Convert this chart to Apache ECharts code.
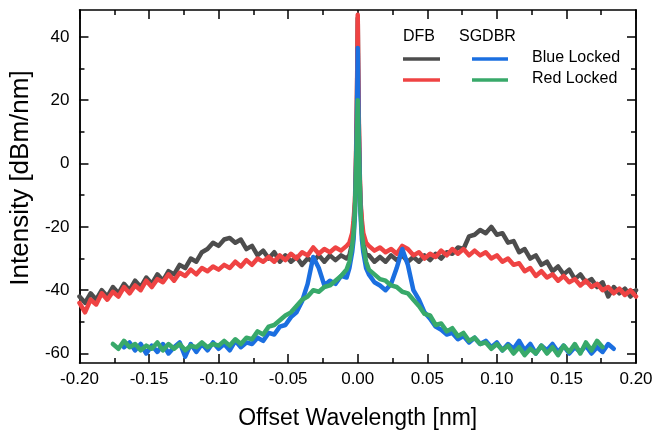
<!DOCTYPE html>
<html>
<head>
<meta charset="utf-8">
<script src="https://cdn.jsdelivr.net/npm/echarts@6/dist/echarts.min.js"></script>
<style>
html,body{margin:0;padding:0;background:#fff;}
#chart{width:656px;height:437px;}
</style>
</head>
<body>
<div id="chart"></div>
<script>
// Sample positions (offset wavelength, nm) for the DFB spectra
const dfbX = [
  -0.200,-0.196,-0.192,-0.188,-0.184,-0.180,-0.176,-0.172,-0.168,-0.164,-0.160,-0.156,-0.152,-0.148,-0.144,-0.140,
  -0.136,-0.132,-0.128,-0.124,-0.120,-0.116,-0.112,-0.108,-0.104,-0.100,-0.096,-0.092,-0.088,-0.084,-0.080,-0.076,
  -0.072,-0.068,-0.064,-0.060,-0.056,-0.052,-0.048,-0.044,-0.040,-0.036,-0.032,-0.028,-0.024,-0.020,-0.016,-0.012,-0.008,
  -0.006,-0.004,-0.003,-0.002,-0.0014,-0.0007,-0.0003,0,0.0003,0.0007,0.0014,0.002,0.003,0.004,0.006,
  0.008,0.012,0.016,0.020,0.024,0.028,0.032,0.036,0.040,0.044,0.048,0.052,0.056,0.060,0.064,0.068,
  0.072,0.076,0.080,0.084,0.088,0.092,0.096,0.100,0.104,0.108,0.112,0.116,0.120,0.124,0.128,0.132,
  0.136,0.140,0.144,0.148,0.152,0.156,0.160,0.164,0.168,0.172,0.176,0.180,0.184,0.188,0.192,0.196,0.200
];
// DFB, blue locked (dark trace), dBm/nm
const dfbBlue = [
  -42,-44,-41,-43,-40,-42,-39,-41,-38,-40,-37,-39,-36,-38,-35,-37,
  -34,-35,-32,-33,-30,-31,-28,-27,-25,-26,-24,-23.5,-25,-24,-27,-26,
  -29,-27.5,-30,-28,-31,-29,-31,-29.5,-32,-30,-31,-29,-31,-29,-30.5,-29,-30,
  -29,-25,-20,-13,-4,14,30,46,30,14,-4,-13,-20,-25,-29,
  -29,-31,-29.5,-31,-29,-30.5,-29,-31,-29.5,-31,-29,-30.5,-28.5,-30,-28,-28.5,
  -26.5,-27,-23,-22.5,-21,-22,-20,-22.5,-22,-25,-24.5,-28,-27,-30,-29,-32,
  -31,-34,-32.5,-35,-33.5,-36.5,-35,-37.5,-36.5,-39,-37.5,-42,-39,-41,-39.5,-42,-40
];
// DFB, red locked
const dfbRed = [
  -44,-47,-43,-44.5,-41,-43,-40.5,-42,-39,-41,-38.5,-40,-37,-39,-36.5,-37.5,
  -35,-37,-34.5,-35.5,-33.5,-35,-33,-34,-32.5,-33.5,-32,-33,-31,-32.5,-30.5,-32,
  -30,-31,-29.5,-31,-29,-30.5,-28.5,-30,-28,-29,-26.5,-28.5,-27,-28,-26.5,-27.5,-26,
  -25,-22,-18,-12,-2,16,32,47,32,16,-2,-12,-18,-22,-25,
  -26,-27.5,-26.5,-28,-27,-28.5,-26,-27,-29,-28,-30,-28.5,-29.5,-27.5,-29,-27,
  -28.5,-27,-29,-27.5,-29,-28,-30,-29,-31,-30,-32,-31.5,-34,-33,-35.5,-34,
  -36,-35,-37,-35.5,-37.5,-36.5,-38.5,-37,-39,-38,-40,-39,-41,-39.5,-41.5,-40,-42
];

// Sample positions for the SGDBR spectra
const sgdbrX = [
  -0.176,-0.172,-0.168,-0.164,-0.160,-0.156,-0.152,-0.148,-0.144,-0.140,
  -0.136,-0.132,-0.128,-0.124,-0.120,-0.116,-0.112,-0.108,-0.104,-0.100,-0.096,-0.092,-0.088,-0.084,-0.080,-0.076,
  -0.072,-0.068,-0.064,-0.060,-0.056,-0.052,-0.048,-0.044,-0.040,-0.036,-0.032,-0.028,-0.024,-0.020,-0.016,-0.012,-0.008,
  -0.006,-0.004,-0.003,-0.002,-0.0014,-0.0007,-0.0003,0,0.0003,0.0007,0.0014,0.002,0.003,0.004,0.006,
  0.008,0.012,0.016,0.020,0.024,0.028,0.032,0.036,0.040,0.044,0.048,0.052,0.056,0.060,0.064,0.068,
  0.072,0.076,0.080,0.084,0.088,0.092,0.096,0.100,0.104,0.108,0.112,0.116,0.120,0.124,0.128,0.132,
  0.136,0.140,0.144,0.148,0.152,0.156,0.160,0.164,0.168,0.172,0.176,0.180,0.184
];
// SGDBR, blue locked
const sgdbrBlue = [
  null,null,-58,-56.5,-59,-57,-60,-57.5,-59.5,-57,
  -60,-58,-56.5,-61,-57,-59.5,-57,-59,-56.5,-58.5,-57,-59,-56,-58,-56.5,-57,
  -55,-56,-53.5,-54,-51.5,-51,-48.5,-47,-43.5,-38,-29.5,-33,-38.5,-37,-38,-35.5,-36,
  -33,-28,-24,-16,-5,10,24,36.5,24,10,-5,-16,-24,-28,-33,
  -35,-37.5,-38.5,-40,-38,-33,-27,-32,-40,-43,-47,-49,-51.5,-52.5,-54,-53.5,
  -55.5,-54.5,-56.5,-55,-57,-56,-58,-56.5,-59,-57,-58.5,-56,-59,-57,-60,-57.5,
  -59,-57,-59.5,-57.5,-60,-58,-59.5,-57.5,-60,-58,-59.5,-57,-58.5
];
// SGDBR, red locked
const sgdbrRed = [
  -57,-58.5,-56,-58,-57,-59,-57.5,-58.5,-56.5,-59,
  -57,-58.5,-57,-59,-57.5,-58,-56.5,-58,-57,-57.5,-56,-57.5,-55.5,-57,-55,-55.5,
  -53,-54,-51.5,-51,-49.5,-48,-47,-45,-43,-42,-40,-40.5,-39,-38.5,-37,-35.5,-33.5,
  -31,-26,-22,-15,-6,6,14,20,14,6,-6,-15,-22,-26,-31,
  -33.5,-35,-36.5,-37,-38.5,-39,-40.5,-41,-43,-45,-47.5,-48,-51,-50.5,-53,-52,
  -54.5,-53.5,-56,-55,-57,-56.5,-58.5,-57,-59,-57.5,-60,-58,-60.5,-58.5,-60,-57.5,
  -60,-58,-60.5,-57.5,-59.5,-57,-60,-56.5,-59,-56,-58,null,null
];

const yMajor = [-60,-40,-20,0,20,40];
const yMinor = [-50,-30,-10,10,30];

const COLORS = { dfbBlue:'#4d4d4d', dfbRed:'#ef4343', sgdbrBlue:'#1b6fe0', sgdbrRed:'#38a96a' };
const FONT = 'Liberation Sans, Arial, sans-serif';
const Y_MIN = -63, Y_MAX = 48.5;

function pairs(xs, ys){ return xs.map((x,i)=>[x, ys[i]]); }

function xAxisDef(pos, showLabel){
  return {
    type:'value', position:pos, min:-0.2, max:0.2, interval:0.05,
    axisLine:{show:true, onZero:false, lineStyle:{color:'#000', width:1.5}},
    axisTick:{show:true, inside:true, length:9, lineStyle:{color:'#000', width:1.5}},
    minorTick:{show:true, splitNumber:2, length:5, lineStyle:{color:'#000', width:1.5}},
    splitLine:{show:false},
    axisLabel:{show:showLabel, color:'#000', fontSize:17, fontFamily:FONT, margin:8,
      formatter:v=>v.toFixed(2)},
    name: showLabel ? 'Offset Wavelength [nm]' : '',
    nameLocation:'middle', nameGap:44,
    nameTextStyle:{color:'#000', fontSize:23, fontFamily:FONT}
  };
}
function yAxisDef(pos, values, len, showLabel, title){
  return {
    type:'value', position:pos, min:Y_MIN, max:Y_MAX,
    axisLine:{show:true, onZero:false, lineStyle:{color:'#000', width:1.5}},
    axisTick:{show:true, inside:true, length:len, customValues:values, lineStyle:{color:'#000', width:1.5}},
    splitLine:{show:false},
    axisLabel:{show:showLabel, customValues:values, color:'#000', fontSize:17, fontFamily:FONT, margin:10},
    name: title || '', nameLocation:'middle', nameGap:40,
    nameTextStyle:{color:'#000', fontSize:26, fontFamily:FONT, padding:[0,0,0,17]}
  };
}

function lineSeries(name, data, color){
  return { name, type:'line', xAxisIndex:0, yAxisIndex:0, data, showSymbol:false, smooth:false,
    connectNulls:false, lineStyle:{color, width:4.5, join:'round', cap:'round'}, itemStyle:{color}, z:2 };
}

const chart = echarts.init(document.getElementById('chart'), null, {renderer:'canvas'});
chart.setOption({
  animation:false,
  backgroundColor:'#fff',
  grid:{left:75, right:20, top:10, bottom:74},
  xAxis:[ xAxisDef('bottom', true), xAxisDef('top', false) ],
  yAxis:[
    yAxisDef('left', yMajor, 9, true, 'Intensity [dBm/nm]'),
    yAxisDef('left', yMinor, 5, false),
    yAxisDef('right', yMajor, 9, false),
    yAxisDef('right', yMinor, 5, false)
  ],
  series:[
    lineSeries('DFB Blue Locked', pairs(dfbX, dfbBlue), COLORS.dfbBlue),
    lineSeries('DFB Red Locked', pairs(dfbX, dfbRed), COLORS.dfbRed),
    lineSeries('SGDBR Blue Locked', pairs(sgdbrX, sgdbrBlue), COLORS.sgdbrBlue),
    lineSeries('SGDBR Red Locked', pairs(sgdbrX, sgdbrRed), COLORS.sgdbrRed)
  ],
  graphic:[
    {type:'text', left:403, top:29, style:{text:'DFB', fill:'#000', font:'16px '+FONT}},
    {type:'text', left:459, top:29, style:{text:'SGDBR', fill:'#000', font:'16px '+FONT}},
    {type:'line', shape:{x1:403,y1:59,x2:440,y2:59}, style:{stroke:COLORS.dfbBlue, lineWidth:3.5}},
    {type:'line', shape:{x1:472,y1:59,x2:508,y2:59}, style:{stroke:COLORS.sgdbrBlue, lineWidth:3.5}},
    {type:'line', shape:{x1:403,y1:80,x2:440,y2:80}, style:{stroke:COLORS.dfbRed, lineWidth:3.5}},
    {type:'line', shape:{x1:472,y1:80,x2:508,y2:80}, style:{stroke:COLORS.sgdbrRed, lineWidth:3.5}},
    {type:'text', left:532, top:50, style:{text:'Blue Locked', fill:'#000', font:'16px '+FONT}},
    {type:'text', left:532, top:71, style:{text:'Red Locked', fill:'#000', font:'16px '+FONT}}
  ]
});
</script>
</body>
</html>
